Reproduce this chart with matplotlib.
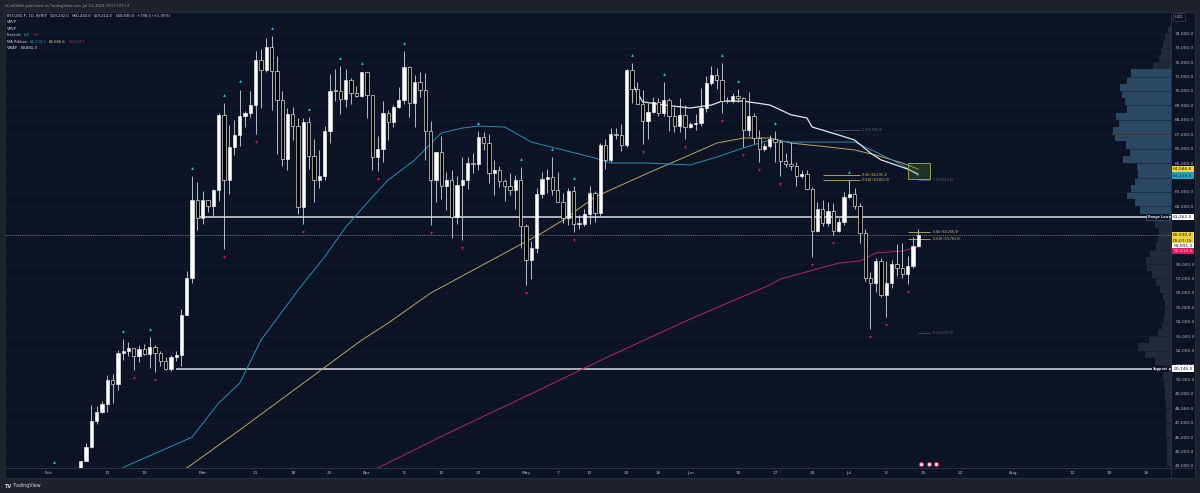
import numpy as np
import matplotlib
matplotlib.use('Agg')
import matplotlib.pyplot as plt
import matplotlib.dates as mdates
from matplotlib.patches import Rectangle
from matplotlib.lines import Line2D
from matplotlib.transforms import blended_transform_factory, offset_copy

W, H = 1200, 493
BG = '#0b1325'
FRAME = '#1e222d'
plt.rcParams['font.family'] = ['DejaVu Sans']

# --- daily candles, BTCUSD.P 1D, Feb 1 .. Jul 14 2024 ---
first_day = np.datetime64('2024-02-01')
first_open = 42570
closes = [
    43080, 43190, 43000, 42580, 42700, 43090, 44340, 45290, 47150, 47770, 48290, 49960, 49700, 51810, 51940,
    52160, 51660, 52120, 51780, 52280, 51850, 51300, 50730, 51570, 51730, 54480, 57040, 62430, 61200,
    62440, 62030, 63130, 68330, 63800, 66110, 66930, 68300, 68500, 69020, 72120, 71480, 73080, 71400, 69400,
    65300, 68390, 67600, 61930, 67840, 65500, 63800, 64100, 67200, 70000, 69990, 69450, 70780, 69890, 69650, 71330,
    69700, 65450, 65980, 68500, 67840, 68900, 69360, 71630, 69140, 70590, 70060, 67200, 63800, 65740, 63420,
    63810, 61280, 63510, 63840, 64990, 64930, 66840, 66410, 64290, 64500, 63760, 63420, 63110, 63840, 60640,
    58250, 59120, 62890, 63890, 64030, 63160, 62330, 61190, 63050, 60790, 60790, 61450, 62900, 61550, 66270,
    65230, 67050, 66940, 66280, 71450, 70140, 69120, 67930, 68530, 69260, 68500, 69390, 68300, 67580, 68360, 67490,
    67710, 67750, 68800, 70560, 71080, 70790, 69340, 69310, 69650, 69500, 67320, 68240, 66750, 66010, 66190,
    66640, 66490, 65140, 64960, 64830, 64100, 64250, 63180, 60280, 61800, 60860, 61690, 60320, 60890, 62680,
    62850, 62030, 60170, 57030, 56660, 58230, 55850, 56700, 58000, 57730, 57340, 57890, 59232, 60030,
]
highs = [
    43260, 43700, 43380, 43100, 43500, 43400, 44370, 45600, 48200, 48170, 48540, 50330, 50370, 52040, 52800,
    52570, 52200, 52380, 52470, 52970, 52370, 52000, 51540, 51680, 51950, 54900, 57550, 64100, 63680,
    63100, 62430, 63230, 68500, 69170, 67630, 67990, 70100, 68620, 70010, 72750, 72900, 73650, 73800, 72400,
    70000, 68850, 68900, 68100, 68100, 68200, 66650, 65900, 67600, 71150, 71550, 71700, 71550, 70900, 70350, 71350,
    71300, 69700, 66900, 69300, 68700, 69000, 70300, 72750, 71750, 71100, 71300, 71250, 67900, 65800, 66900,
    64350, 64500, 64100, 65450, 65400, 65700, 67230, 67150, 67050, 65250, 64800, 63900, 64300, 64200, 64700,
    60750, 59600, 63300, 64400, 64600, 65450, 64350, 62950, 63250, 63400, 61400, 61800, 63400, 63100, 66400,
    66700, 67400, 67400, 67700, 71500, 71950, 70650, 70050, 69200, 69550, 69500, 70600, 69500, 68900, 69500, 69000,
    67850, 68400, 70200, 71050, 71750, 71600, 71950, 69550, 69850, 70150, 69550, 69950, 68450, 67300, 66400,
    66950, 67200, 66600, 65700, 66450, 65050, 64500, 64500, 63350, 62300, 62450, 62300, 62200, 61200, 63000,
    63800, 63250, 62250, 60450, 57450, 58450, 58450, 58200, 58250, 59400, 59450, 58550, 59850, 60430,
]
lows = [
    41880, 42600, 42880, 42250, 42250, 42580, 42790, 44330, 45250, 46900, 47700, 47730, 48340, 49300, 51350,
    51640, 50680, 51200, 51700, 50820, 50550, 50950, 50650, 50600, 51290, 50900, 54450, 56700, 60360,
    60800, 61580, 61330, 62340, 59050, 62850, 65590, 66170, 67500, 68180, 67000, 68800, 71350, 68700, 65630,
    64800, 64550, 66600, 61500, 60800, 64600, 62300, 63250, 63800, 66400, 69300, 68400, 68900, 69100, 69600, 69600,
    68100, 64550, 64450, 65100, 66600, 67500, 68800, 69100, 68200, 67500, 69600, 65250, 60700, 62300, 62500,
    61750, 59800, 60800, 59650, 63200, 64300, 64550, 65900, 63600, 62800, 63350, 62400, 62800, 61800, 59100,
    56550, 56950, 58800, 62600, 62900, 62800, 62300, 60850, 60700, 60200, 60400, 60650, 60800, 60900, 61350,
    64600, 65100, 66650, 65850, 66100, 69200, 69150, 66300, 66650, 68500, 68300, 68250, 67250, 67150, 67150, 66650,
    67400, 67300, 67600, 68550, 70400, 70150, 68500, 69200, 69150, 69250, 66100, 66900, 66300, 65100, 65850,
    66050, 65100, 64100, 64700, 64550, 63400, 63950, 63200, 58500, 60250, 60650, 60650, 60050, 60250, 60700,
    62550, 61800, 59450, 56800, 53500, 56050, 55700, 54300, 56350, 57200, 57050, 56650, 57750, 59214,
]

# Williams fractals (day index from Feb 1)
up_fractal_days = [1, 14, 19, 27, 33, 36, 42, 49, 55, 59, 67, 81, 89, 95, 99, 110, 116, 127, 130, 137, 151]
down_fractal_days = [16, 20, 33, 39, 48, 62, 72, 78, 90, 99, 112, 120, 127, 131, 134, 138, 144, 148, 155, 158, 162]

# MA ribbon (day index, price)
ma_fast_days = [14, 27, 32, 36, 40, 47, 52, 56, 61, 64, 69, 74, 78, 81, 86, 91, 97, 103, 106, 113, 121, 126, 131,
                136, 140, 152, 156, 161, 164]
ma_fast = [43900, 46000, 48360, 49750, 52730, 56200, 58490, 60570, 62650, 63830, 65210, 67090, 67430, 67570, 67500,
           66460, 65910, 65350, 65010, 65010, 64870, 65420, 66050, 66600, 66460, 66460, 65770, 64870, 64133.3]
ma_mid_days = [26, 36, 59, 64, 72, 79, 86, 93, 97, 103, 113, 120, 126, 131, 136, 140, 147, 152, 156, 161, 164]
ma_mid = [43860, 46500, 52730, 53910, 55990, 57380, 58770, 60150, 61050, 62650, 64310, 65420, 66390, 66740, 66740,
          66390, 66120, 65910, 65560, 65010, 64586.6]
ma_slow_days = [62, 76, 91, 106, 121, 136, 138, 149, 153, 156, 161, 164]
ma_slow = [43860, 46400, 49010, 51660, 54190, 56550, 56960, 58070, 58210, 58770, 58900, 59210.5]

# anchored VWAP (white) from the May 20 high
avwap_days = [110, 112, 116, 121, 125, 127, 131, 136, 140, 143, 144, 149, 152, 155, 157, 162, 164]
avwap = [70550, 69250, 69030, 68820, 69030, 69300, 69300, 69030, 68350, 68130, 67500, 66950, 66600, 65700,
         65220, 64590, 64240]

# visible range volume profile, 500-wide rows from 44,250 to 74,250
vp_rows_from = 44250
vp_volume = [4, 4, 4, 4, 5, 5, 5, 5, 5, 6, 6, 7,
             8, 11, 16, 26, 33, 22, 13, 9, 7, 6, 6, 8, 11, 15, 19, 24, 25, 21, 15, 13,
             12, 16, 25, 31, 36, 44, 40, 36, 33, 34, 48, 41, 45, 56, 58, 52, 55, 44, 46, 49,
             51, 44, 40, 18, 12, 10, 8, 6, 3]
va_low, va_high, poc = 61000, 71500, 67000

range_low = 61262.5
support = 50746.5
last_price = 60030.0
vwap_last = 59891.3

fib_top = [(1, 67300.4, 'gray'), (0.66, 64195.1, 'gold'), (0.618, 63811.5, 'gold')]
fib_bottom = [(1, 63812.6, 'gray'), (0.66, 60206.9, 'gold'), (0.618, 59761.5, 'gold'), (0, 53207.6, 'gray')]

tick_dates = ['2024-02-01', '2024-02-12', '2024-02-19', '2024-03-01', '2024-03-11', '2024-03-18', '2024-03-25',
              '2024-04-01', '2024-04-08', '2024-04-15', '2024-04-22', '2024-05-01', '2024-05-07', '2024-05-13',
              '2024-05-20', '2024-05-26', '2024-06-01', '2024-06-10', '2024-06-17', '2024-06-24', '2024-07-01',
              '2024-07-08', '2024-07-15', '2024-07-22', '2024-08-01', '2024-08-12', '2024-08-19', '2024-08-26']
tick_labels = ['Feb', '12', '19', 'Mar', '11', '18', '25', 'Apr', '8', '15', '22', 'May', '7', '13', '20', '26',
               'Jun', '10', '17', '24', 'Jul', '8', '15', '22', 'Aug', '12', '19', '26']

# ---------------------------------------------------------------------------
t0 = mdates.date2num(first_day)


def xd(days):
    return t0 + np.asarray(days, dtype=float)


def fx(px):
    return px / W


def fy(py):
    return 1 - py / H


closes = np.array(closes, float)
highs = np.array(highs, float)
lows = np.array(lows, float)
opens = np.concatenate([[first_open], closes[:-1]])
x = xd(np.arange(len(closes)))

fig = plt.figure(figsize=(W / 100, H / 100), dpi=100)
fig.patch.set_facecolor(FRAME)

panel = fig.add_axes([fx(5), fy(478), fx(1195) - fx(5), fy(12) - fy(478)])
panel.set_facecolor(BG)
panel.set_xticks([])
panel.set_yticks([])
for s in panel.spines.values():
    s.set_color('#2a2e39')
    s.set_linewidth(0.6)
panel.set_zorder(0)

ax = fig.add_axes([fx(5), fy(468), fx(1171) - fx(5), fy(12) - fy(468)])
ax.set_zorder(2)
ax.patch.set_visible(False)
xmin, xmax = xd(-8.3), xd(211.7)
ymin, ymax = 43861, 75477
ax.set_xlim(xmin, xmax)
ax.set_ylim(ymin, ymax)
for s in ax.spines.values():
    s.set_visible(False)

# price scale
yt = np.arange(44000, 75000, 1000)
hidden = {64000, 61000, 60000, 59000}
ax.yaxis.tick_right()
ax.set_yticks(yt)
ax.set_yticklabels(['' if v in hidden else f'{v:,.1f}' for v in yt])
ax.tick_params(axis='y', length=0, pad=3.0, labelsize=3.2, labelcolor='#b2b5be')
ax.set_xticks(mdates.date2num(np.array(tick_dates, dtype='datetime64[D]')))
ax.set_xticklabels(tick_labels)
ax.tick_params(axis='x', length=0, pad=2.0, labelsize=3.2, labelcolor='#b2b5be')
ax.grid(axis='y', color='#131d31', lw=0.5)

# volume profile behind everything else
vp = ax.twiny()
vp.set_zorder(1)
vp.set_xlim(1166, 0)
vp.set_xticks([])
for s in vp.spines.values():
    s.set_visible(False)
rows = vp_rows_from + 500 * np.arange(len(vp_volume))
vol = np.array(vp_volume, float)
in_va = (rows > va_low) & (rows < va_high)
vp.barh(rows, vol, height=500, left=0, color=np.where(in_va, '#2a4861', '#202a3b'), lw=0)
k = in_va & ((rows - 250) % 1000 == 0)
vp.hlines(rows[k] - 250, 0, np.minimum(vol[k], np.roll(vol, 1)[k]), color='#3d6885', lw=0.6)
vp.hlines(poc, 0, 60, color='#b0542f', lw=0.9)

# horizontal levels
ax.hlines(range_low, xd(28), xmax, color='#b9bdc6', lw=1.3, zorder=3)
ax.hlines(support, xd(24), xmax, color='#b9bdc6', lw=1.3, zorder=3)
ax.axhline(last_price, color='#8c919b', lw=0.5, ls=(0, (1.5, 1.5)), zorder=3)
edge = blended_transform_factory(ax.transAxes, ax.transData)
for lvl, name in [(range_low, 'Range Low'), (support, 'Support')]:
    ax.text(0.9975, lvl, name, transform=edge, ha='right', va='center', fontsize=2.4, color='#e0e3eb',
            fontweight='bold', bbox=dict(boxstyle='square,pad=0.25', fc=BG, ec='none'), zorder=6)

# MA ribbon and VWAP
ax.plot(xd(ma_slow_days), ma_slow, color='#b3285f', lw=0.7, zorder=3)
ax.plot(xd(ma_mid_days), ma_mid, color='#b9a85a', lw=0.7, zorder=3)
ax.plot(xd(ma_fast_days), ma_fast, color='#2b8fb3', lw=0.7, zorder=3)
ax.plot(xd(avwap_days), avwap, color='#e4e6ea', lw=0.9, zorder=3)

# candles
up = closes >= opens
body_lo = np.minimum(opens, closes)
body_h = np.maximum(np.abs(closes - opens), 45)
ax.vlines(x, np.minimum(lows, body_lo), np.maximum(highs, body_lo + body_h), color='#d5d8de', lw=0.6, zorder=4)
ax.bar(x, body_h, 0.62, bottom=body_lo, color=np.where(up, '#ffffff', '#000000'),
       edgecolor='#f0f0f0', lw=0.45, zorder=5)

# fractals
up_tr = offset_copy(ax.transData, fig=fig, y=5.8, units='points')
dn_tr = offset_copy(ax.transData, fig=fig, y=-5.8, units='points')
ax.plot(x[up_fractal_days], highs[up_fractal_days], ls='none', marker='^', ms=2.0, color='#2cc6dc',
        mew=0, transform=up_tr, zorder=6)
ax.plot(x[down_fractal_days], lows[down_fractal_days], ls='none', marker='v', ms=2.0, color='#d81f4f',
        mew=0, transform=dn_tr, zorder=6)

# fib retracements
for (f, price, kind), (a, b) in [(v, (146, 153)) for v in fib_top] + [(v, (162, 166.3)) for v in fib_bottom]:
    col = '#c7b35a' if kind == 'gold' else '#4a5263'
    tcol = '#d6c56a' if kind == 'gold' else '#5d6577'
    a2 = a + 2 if kind == 'gray' else a
    ax.hlines(price, xd(a2), xd(b), color=col, lw=0.6, zorder=4)
    ax.text(xd(b + 0.4), price, f'{f:g} ({price:,.1f})', fontsize=2.3, color=tcol, va='center', ha='left',
            zorder=6)
ax.add_patch(Rectangle((xd(162), 63882), 4.2, 1109, fc='#4f7a2a', ec='none', alpha=0.3, zorder=4))
ax.add_patch(Rectangle((xd(162), 63882), 4.2, 1109, fc='none', ec='#86a34a', lw=0.7, zorder=4))

# chart events
ev_tr = offset_copy(ax.transData, fig=fig, y=3.0, units='points')
ax.plot(xd([164.6, 166.0, 167.4]), [ymin] * 3, ls='none', marker='o', ms=3.0, mfc='#f2f2f2', mec='#c8235a',
        mew=0.8, transform=ev_tr, zorder=7, clip_on=False)

# price tags on the scale
tags = [
    (64586.6, '64,586.6', '#f0d43a', '#131722', 0),
    (64133.3, '64,133.3', '#1ba3c6', '#0e2b3a', 0),
    (range_low, '61,262.5', '#ffffff', '#131722', 0),
    (last_price, '60,030.0', '#f0d43a', '#131722', 0),
    (last_price, '05:07:15', '#f0d43a', '#131722', -4.3),
    (vwap_last, '59,891.3', '#ffffff', '#131722', -6.6),
    (59210.5, '59,210.5', '#d81b5c', '#f7c6d6', -3.0),
    (support, '50,746.5', '#ffffff', '#131722', 0),
]
for price, txt, bgc, fgc, dy in tags:
    tr = offset_copy(edge, fig=fig, y=dy, units='points')
    ax.text(1.0 + 2.2 / 1166, price, txt, transform=tr, ha='left', va='center', fontsize=3.2, color=fgc,
            clip_on=False, zorder=8, bbox=dict(boxstyle='square,pad=0.28', fc=bgc, ec='none'))

# frame separators
fig.add_artist(Line2D([fx(1171), fx(1171)], [fy(12), fy(478)], color='#2a3142', lw=0.7))
fig.add_artist(Line2D([fx(5), fx(1195)], [fy(468), fy(468)], color='#2a3142', lw=0.7))
fig.text(fx(1175), fy(17), 'USD', fontsize=2.8, color='#b2b5be', va='center',
         bbox=dict(boxstyle='square,pad=0.4', fc=BG, ec='#3a3f4c', lw=0.5))

# header, legend, footer
fig.text(fx(5), fy(6), 'eCvhDdOn published on TradingView.com, Jul 14, 2024 20:52 UTC+2', fontsize=2.6,
         color='#9598a1', va='center')
legend_rows = [
    (15.7, [('BTCUSD.P, 1D, BYBIT', '#d1d4dc'), ('O59,232.0', '#d1d4dc'), ('H60,430.0', '#d1d4dc'),
            ('L59,214.0', '#d1d4dc'), ('C60,030.0', '#d1d4dc'), ('+798.0 (+1.35%)', '#d1d4dc')]),
    (22.2, [('VRVP', '#d1d4dc')]),
    (28.8, [('VRVP', '#d1d4dc')]),
    (35.3, [('Fractals', '#d1d4dc'), ('0.0', '#26c6da'), ('1.0', '#d81f4f')]),
    (41.9, [('MA Ribbon', '#d1d4dc'), ('64,133.3', '#2b9ac0'), ('64,586.6', '#e6d56a'), ('59,210.5', '#c2285f')]),
    (48.4, [('VWAP', '#d1d4dc'), ('59,891.3', '#ffffff')]),
]
renderer = fig.canvas.get_renderer()
for py, parts in legend_rows:
    px = 7
    for txt, col in parts:
        t = fig.text(fx(px), fy(py), txt, fontsize=2.7, color=col, va='center')
        px = t.get_window_extent(renderer).x1 + 2.5
fig.text(fx(5), fy(486), 'TV', fontsize=3.6, color='#d1d4dc', va='center', fontweight='bold')
fig.text(fx(13), fy(486), 'TradingView', fontsize=3.4, color='#d1d4dc', va='center')

fig.savefig('out.png', dpi=100, facecolor=FRAME)
